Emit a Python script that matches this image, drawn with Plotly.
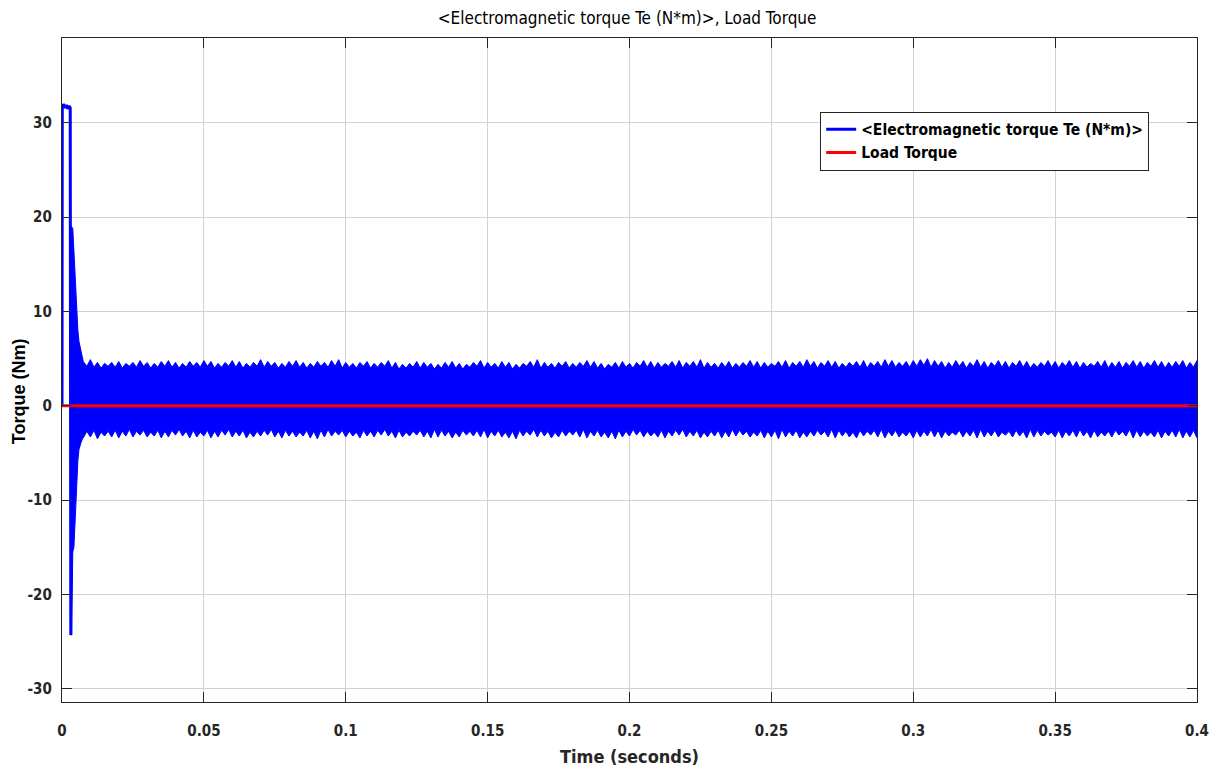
import numpy as np
import plotly.graph_objects as go

# ---------------- data ----------------
# start-up transient of the electromagnetic torque (line part)
t_start = [0.0, 0.0001, 0.0005, 0.0010, 0.0015, 0.0020, 0.0025, 0.0029, 0.0031]
te_start = [0.0, 31.5, 32.0, 31.6, 31.9, 31.5, 31.8, 31.6, -24.3]

# decaying oscillation envelope right after start-up
t_decay = [0.0031, 0.0034, 0.0038, 0.0042, 0.0045, 0.0048, 0.0052, 0.0056, 0.0060, 0.0066, 0.0072]
te_decay_upper = [19.0, 19.0, 18.8, 16.0, 14.5, 12.5, 10.5, 8.0, 6.8, 5.8, 5.2]
te_decay_lower = [-24.3, -24.3, -15.5, -15.0, -11.8, -11.5, -8.5, -5.8, -4.6, -4.0, -3.5]

# steady-state ripple envelope: one peak / trough pair every 2.5 ms from 7.5 ms
env_t0 = 0.0075
env_period = 0.0025
upper_peaks = [
    4.7, 4.9, 4.6, 4.5, 4.6, 4.7, 4.5, 4.6, 4.8, 4.6,
    4.5, 4.7, 4.8, 4.6, 4.5, 4.7, 4.6, 4.8, 4.7, 4.5,
    4.6, 4.8, 4.7, 4.5, 4.6, 4.9, 4.7, 4.6, 4.5, 4.7,
    4.8, 4.6, 4.5, 4.7, 4.6, 4.8, 4.9, 4.6, 4.5, 4.6,
    4.7, 4.5, 4.6, 4.8, 4.6, 4.4, 4.5, 4.7, 4.6, 4.5,
    4.4, 4.6, 4.7, 4.5, 4.4, 4.6, 4.8, 4.6, 4.5, 4.7,
    4.6, 4.4, 4.5, 4.7, 4.9, 4.6, 4.5, 4.6, 4.7, 4.5,
    4.6, 4.8, 4.7, 4.5, 4.4, 4.6, 4.7, 4.5, 4.6, 4.8,
    4.7, 4.6, 4.5, 4.7, 4.8, 4.6, 4.7, 4.9, 4.6, 4.5,
    4.6, 4.7, 4.5, 4.6, 4.8, 4.7, 4.6, 4.5, 4.7, 4.8,
    4.6, 4.7, 4.9, 4.7, 4.6, 4.8, 4.7, 4.5, 4.6, 4.7,
    4.8, 4.6, 4.7, 4.9, 4.8, 4.6, 4.7, 4.8, 4.9, 5.0,
    4.8, 4.7, 4.6, 4.8, 4.7, 4.6, 4.9, 4.7, 4.6, 4.8,
    4.7, 4.6, 4.8, 4.7, 4.5, 4.6, 4.8, 4.7, 4.6, 4.8,
    4.7, 4.6, 4.5, 4.7, 4.8, 4.6, 4.7, 4.6, 4.8, 4.7,
    4.6, 4.8, 4.7, 4.6, 4.7, 4.8, 4.6, 4.8,
]
upper_troughs = [
    4.2, 4.1, 4.0, 4.2, 4.1, 4.0, 4.2, 4.1, 4.2, 4.0,
    4.1, 4.2, 4.1, 4.0, 4.1, 4.2, 4.1, 4.2, 4.0, 4.1,
    4.2, 4.1, 4.0, 4.1, 4.2, 4.1, 4.2, 4.0, 4.1, 4.2,
    4.1, 4.0, 4.1, 4.2, 4.1, 4.2, 4.0, 4.1, 4.0, 4.2,
    4.0, 4.1, 4.2, 4.0, 3.9, 4.0, 4.1, 4.0, 4.1, 3.9,
    4.0, 4.1, 4.0, 3.9, 4.1, 4.2, 4.0, 4.1, 4.0, 4.1,
    3.9, 4.0, 4.2, 4.1, 4.0, 4.1, 4.0, 4.2, 4.0, 4.1,
    4.2, 4.1, 4.0, 3.9, 4.1, 4.0, 4.1, 4.0, 4.2, 4.1,
    4.0, 4.1, 4.2, 4.1, 4.0, 4.2, 4.1, 4.0, 4.1, 4.0,
    4.1, 4.0, 4.1, 4.2, 4.1, 4.0, 4.1, 4.2, 4.1, 4.0,
    4.2, 4.1, 4.2, 4.0, 4.2, 4.1, 4.0, 4.1, 4.2, 4.1,
    4.0, 4.2, 4.1, 4.2, 4.1, 4.2, 4.1, 4.2, 4.3, 4.1,
    4.2, 4.0, 4.1, 4.2, 4.0, 4.2, 4.1, 4.0, 4.2, 4.1,
    4.0, 4.2, 4.1, 4.0, 4.1, 4.2, 4.1, 4.0, 4.2, 4.1,
    4.0, 4.1, 4.2, 4.1, 4.0, 4.1, 4.0, 4.2, 4.1, 4.0,
    4.2, 4.1, 4.0, 4.1, 4.2, 4.0, 4.1, 4.2,
]
lower_peaks = [
    -3.4, -3.3, -3.5, -3.2, -3.3, -3.4, -3.2, -3.3, -3.1, -3.3,
    -3.2, -3.4, -3.3, -3.1, -3.2, -3.4, -3.3, -3.2, -3.4, -3.3,
    -3.1, -3.3, -3.2, -3.4, -3.3, -3.2, -3.1, -3.3, -3.4, -3.2,
    -3.3, -3.2, -3.4, -3.5, -3.3, -3.2, -3.1, -3.3, -3.2, -3.4,
    -3.2, -3.3, -3.1, -3.2, -3.4, -3.3, -3.2, -3.1, -3.3, -3.4,
    -3.3, -3.2, -3.4, -3.3, -3.1, -3.2, -3.3, -3.4, -3.2, -3.3,
    -3.4, -3.5, -3.2, -3.1, -3.3, -3.2, -3.4, -3.3, -3.2, -3.1,
    -3.3, -3.4, -3.2, -3.3, -3.4, -3.5, -3.3, -3.2, -3.1, -3.3,
    -3.2, -3.3, -3.4, -3.2, -3.1, -3.3, -3.2, -3.4, -3.3, -3.2,
    -3.4, -3.3, -3.2, -3.1, -3.3, -3.2, -3.4, -3.3, -3.5, -3.3,
    -3.2, -3.4, -3.3, -3.2, -3.1, -3.3, -3.4, -3.2, -3.3, -3.4,
    -3.2, -3.1, -3.3, -3.4, -3.2, -3.3, -3.2, -3.4, -3.3, -3.2,
    -3.3, -3.4, -3.2, -3.1, -3.3, -3.2, -3.4, -3.3, -3.2, -3.3,
    -3.1, -3.3, -3.2, -3.4, -3.3, -3.2, -3.1, -3.3, -3.4, -3.2,
    -3.3, -3.2, -3.4, -3.3, -3.2, -3.3, -3.1, -3.2, -3.4, -3.3,
    -3.2, -3.3, -3.4, -3.2, -3.3, -3.4, -3.3, -3.4,
]
lower_troughs = [
    -2.7, -2.6, -2.8, -2.7, -2.6, -2.7, -2.5, -2.7, -2.6, -2.8,
    -2.6, -2.7, -2.6, -2.5, -2.7, -2.6, -2.8, -2.6, -2.7, -2.6,
    -2.5, -2.7, -2.6, -2.8, -2.7, -2.6, -2.5, -2.7, -2.6, -2.7,
    -2.8, -2.6, -2.7, -2.6, -2.5, -2.7, -2.6, -2.7, -2.8, -2.6,
    -2.7, -2.6, -2.5, -2.7, -2.6, -2.8, -2.7, -2.6, -2.7, -2.5,
    -2.6, -2.7, -2.8, -2.6, -2.7, -2.6, -2.5, -2.7, -2.6, -2.8,
    -2.7, -2.6, -2.7, -2.5, -2.6, -2.7, -2.8, -2.6, -2.7, -2.6,
    -2.5, -2.7, -2.6, -2.8, -2.7, -2.6, -2.7, -2.5, -2.6, -2.7,
    -2.8, -2.6, -2.7, -2.6, -2.5, -2.7, -2.6, -2.8, -2.7, -2.6,
    -2.7, -2.5, -2.6, -2.7, -2.8, -2.6, -2.7, -2.6, -2.5, -2.7,
    -2.6, -2.8, -2.7, -2.6, -2.7, -2.5, -2.6, -2.7, -2.8, -2.6,
    -2.7, -2.6, -2.5, -2.7, -2.6, -2.8, -2.7, -2.6, -2.7, -2.5,
    -2.6, -2.7, -2.8, -2.6, -2.7, -2.6, -2.5, -2.7, -2.6, -2.8,
    -2.7, -2.6, -2.7, -2.5, -2.6, -2.7, -2.8, -2.6, -2.7, -2.6,
    -2.5, -2.7, -2.6, -2.8, -2.7, -2.6, -2.7, -2.5, -2.6, -2.7,
    -2.8, -2.6, -2.7, -2.6, -2.5, -2.7, -2.6, -2.7,
]

# load torque (zero over the whole simulation)
t_load = [0.0, 0.4]
load_torque = [0.0, 0.0]

x_ticks = [0, 0.05, 0.1, 0.15, 0.2, 0.25, 0.3, 0.35, 0.4]
x_tick_labels = ["0", "0.05", "0.1", "0.15", "0.2", "0.25", "0.3", "0.35", "0.4"]
y_ticks = [-30, -20, -10, 0, 10, 20, 30]
y_tick_labels = ["-30", "-20", "-10", "0", "10", "20", "30"]

# ---------------- build envelope polygon ----------------
n = len(upper_peaks)
t_pk = env_t0 + env_period * np.arange(n)
t_tr = t_pk + env_period / 2
t_env = np.empty(2 * n)
t_env[0::2] = t_pk
t_env[1::2] = t_tr
up_env = np.empty(2 * n)
up_env[0::2] = upper_peaks
up_env[1::2] = upper_troughs
lo_env = np.empty(2 * n)
lo_env[0::2] = lower_peaks
lo_env[1::2] = lower_troughs

t_upper = np.concatenate([t_decay, t_env])
v_upper = np.concatenate([te_decay_upper, up_env])
t_lower = np.concatenate([t_decay, t_env])
v_lower = np.concatenate([te_decay_lower, lo_env])

band_x = np.concatenate([t_upper, t_lower[::-1]])
band_y = np.concatenate([v_upper, v_lower[::-1]])

BLUE = "#0000FF"
RED = "#FF0000"
FONT = "Liberation Sans Narrow, Arial Narrow, DejaVu Sans Condensed, Liberation Sans, Arial, sans-serif"

fig = go.Figure()
fig.add_trace(go.Scatter(
    x=band_x, y=band_y, mode="lines", fill="toself", fillcolor=BLUE,
    line=dict(color=BLUE, width=1), showlegend=False, hoverinfo="skip",
))
fig.add_trace(go.Scatter(
    x=t_start, y=te_start, mode="lines", line=dict(color=BLUE, width=3),
    name="<Electromagnetic torque Te (N*m)>",
))
fig.add_trace(go.Scatter(
    x=t_load, y=load_torque, mode="lines", line=dict(color=RED, width=3),
    name="Load Torque",
))

axis_common = dict(
    showgrid=True, gridcolor="#d2d2d2", gridwidth=1,
    showline=True, linecolor="#262626", linewidth=1.2, mirror="ticks",
    ticks="inside", ticklen=10, tickcolor="#262626", tickwidth=1,
    zeroline=False, automargin=False,
    tickfont=dict(family=FONT, size=15, color="#262626", weight="bold"),
)

# page body has an 8 px margin: the figure is sized to fit the window
W, H = 1201, 759
fig.update_layout(
    width=W, height=H,
    paper_bgcolor="white", plot_bgcolor="white",
    margin=dict(l=54, r=12, t=30, b=65, autoexpand=False),
    title=dict(
        text="<Electromagnetic torque Te (N*m)>, Load Torque",
        x=0.5155, xanchor="center", y=1 - 10 / H, yanchor="middle",
        font=dict(family=FONT, size=17, color="#000000"),
    ),
    xaxis=dict(
        range=[0, 0.4], tickvals=x_ticks, ticktext=x_tick_labels,
        ticklabelstandoff=15,
        title=dict(text="Time (seconds)", standoff=14,
                   font=dict(family=FONT, size=18, color="#262626", weight="bold")),
        **axis_common,
    ),
    yaxis=dict(
        range=[-31.4, 39.0], tickvals=y_ticks, ticktext=y_tick_labels,
        ticklabelstandoff=6,
        **axis_common,
    ),
    annotations=[dict(
        text="Torque (Nm)", textangle=-90, showarrow=False,
        xref="paper", yref="paper", x=-0.0379, y=0.468,
        xanchor="center", yanchor="middle",
        font=dict(family="Liberation Sans, Arial, sans-serif", size=18,
                  color="#000000", weight="bold"),
    )],
    legend=dict(
        x=0.668, y=0.889, xanchor="left", yanchor="top",
        bgcolor="white", bordercolor="#262626", borderwidth=1,
        font=dict(family=FONT, size=15.5, color="#000000", weight="bold"),
        tracegroupgap=0,
    ),
    showlegend=True,
)

fig.write_html("out.html")
